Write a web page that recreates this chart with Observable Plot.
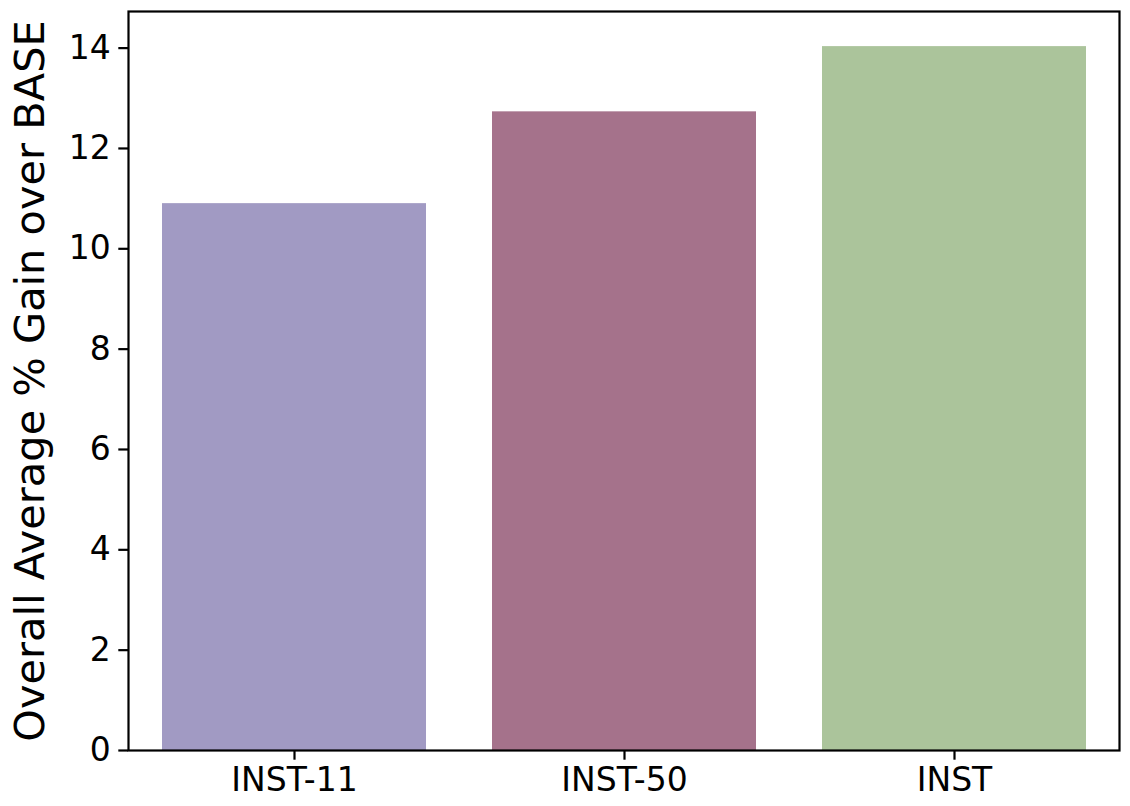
<!DOCTYPE html>
<html>
<head>
<meta charset="utf-8">
<script src="https://cdn.jsdelivr.net/npm/d3@7"></script>
<script src="https://cdn.jsdelivr.net/npm/@observablehq/plot@0.6"></script>
<style>
  html, body { margin: 0; padding: 0; background: #fff; }
  #chart svg { display: block; }
</style>
</head>
<body>
<div id="chart"></div>
<script>
const categories = ["INST-11", "INST-50", "INST"];
const gains = [10.9, 12.73, 14.03];
const colors = ["#a19ac3", "#a5728b", "#abc49b"];
const yTicks = [0, 2, 4, 6, 8, 10, 12, 14];
const yLabel = "Overall Average % Gain over BASE";

const data = categories.map((c, i) => ({category: c, gain: gains[i]}));

const chart = Plot.plot({
  width: 1130,
  height: 806,
  marginLeft: 128,
  marginRight: 11,
  marginTop: 11,
  marginBottom: 56,
  style: {fontFamily: "DejaVu Sans", fontSize: "33px", color: "#000", background: "#fff"},
  x: {domain: categories, paddingInner: 0.2, paddingOuter: 0.1},
  y: {domain: [0, 14.73]},
  color: {domain: categories, range: colors},
  marks: [
    Plot.barY(data, {x: "category", y: "gain", fill: "category"}),
    Plot.axisX({tickSize: 9.7, tickPadding: 7, strokeWidth: 2.2, label: null, fontSize: 33}),
    Plot.axisY({ticks: yTicks, tickSize: 9.7, tickPadding: 8, strokeWidth: 2.2, fontSize: 33,
      label: yLabel, labelAnchor: "center", labelArrow: "none", labelOffset: 114}),
    Plot.frame({stroke: "#000", strokeWidth: 2.2})
  ]
});
document.getElementById("chart").appendChild(chart);
// make the y label larger than tick labels
chart.querySelectorAll("g[aria-label='y-axis label'] text").forEach(t => t.setAttribute("font-size", "41.5"));
</script>
</body>
</html>
